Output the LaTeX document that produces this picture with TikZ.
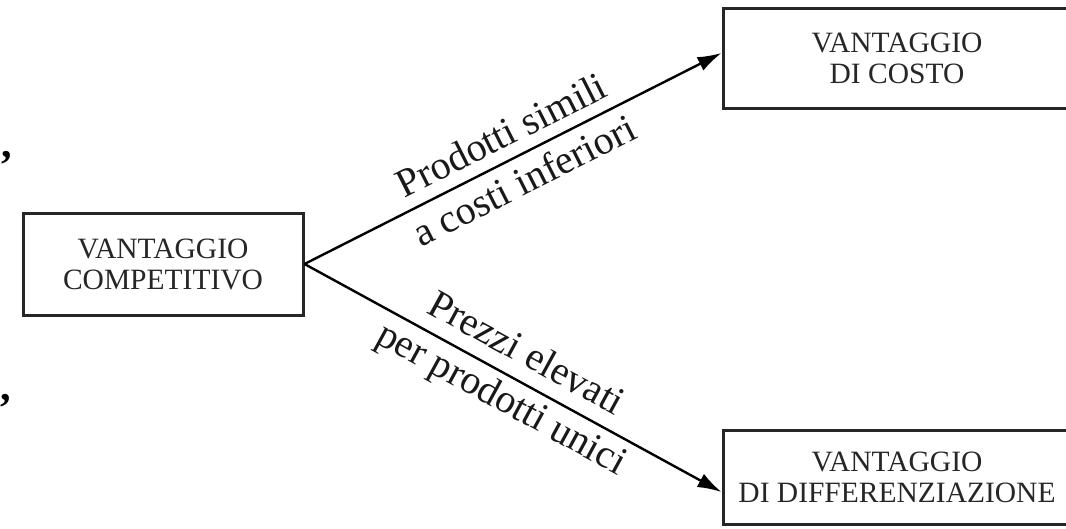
\documentclass[tikz,border=0pt]{standalone}
\usepackage{fontspec}
\setmainfont{Liberation Serif}
\usetikzlibrary{arrows.meta}
\tikzset{
  box/.style={draw=black!85, line width=3pt, minimum width=#1, inner sep=0pt,
    align=center, font=\fontsize{29.5}{31}\selectfont, text=black!85},
  conn/.style={line width=2.4pt, -{Latex[length=24pt,width=15pt]}},
  lab/.style={sloped, align=center, font=\fontsize{40}{51}\selectfont, text=black!90},
  commamark/.style={font=\bfseries\fontsize{42}{42}\selectfont, inner sep=0pt}
}
\begin{document}
\begin{tikzpicture}[x=1pt,y=-1pt]
\useasboundingbox (0,0) rectangle (1066,528);
\clip (0,0) rectangle (1066,528);
\node[box=280pt, minimum height=102pt] (L) at (163,264) {VANTAGGIO\\COMPETITIVO};
\node[box=348pt, minimum height=100pt] (T) at (897,58) {VANTAGGIO\\DI COSTO};
\node[box=348pt, minimum height=94pt] (B) at (897,477) {VANTAGGIO\\DI DIFFERENZIAZIONE};
\draw[conn] (L.east) -- ([yshift=5pt]T.west)
  node[lab, midway, yshift=1pt] (l1) {Prodotti simili\\a costi inferiori};
\draw[conn] (L.east) -- ([yshift=-15pt]B.west)
  node[lab, midway] (l2) {Prezzi elevati\\per prodotti unici};
\node[commamark] (c1) at (7,158) {,};
\node[commamark] (c2) at (6,401) {,};
\end{tikzpicture}
\end{document}
